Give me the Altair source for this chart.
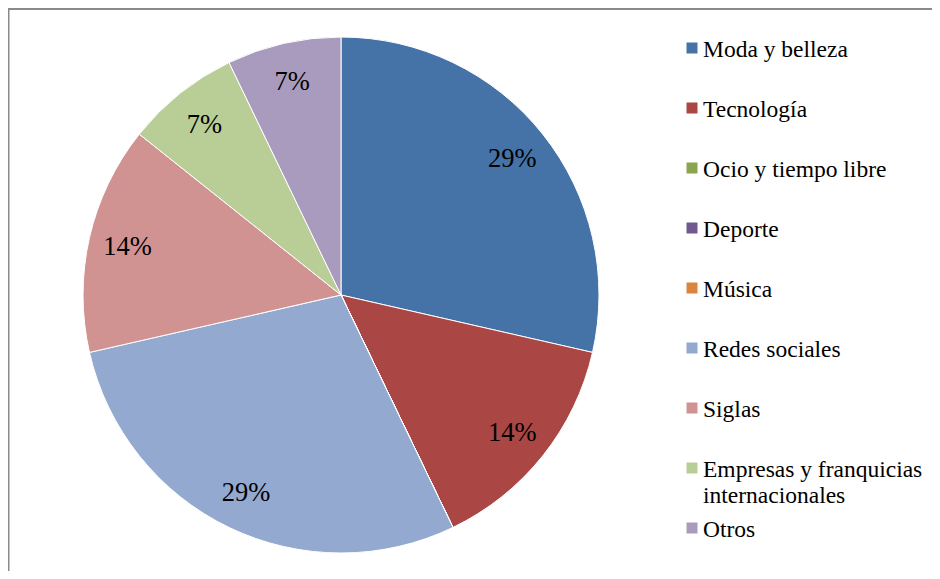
import altair as alt
import pandas as pd

categories = ["Moda y belleza", "Tecnología", "Ocio y tiempo libre", "Deporte", "Música",
              "Redes sociales", "Siglas", "Empresas y franquicias\ninternacionales", "Otros"]
values = [4, 2, 0, 0, 0, 4, 2, 1, 1]
colors = ["#4572A7", "#AA4643", "#89A54E", "#71588F", "#DB843D",
          "#93A9CF", "#D19392", "#B9CD96", "#A99BBD"]

total = sum(values)
df = pd.DataFrame({
    "cat": categories,
    "val": values,
    "idx": list(range(len(categories))),
    "pct": [f"{round(100 * v / total)}%" for v in values],
})

W, H = 924, 563
CX, CY, R = 333, 287, 258
FONT = "Liberation Serif, Times New Roman, serif"

color_scale = alt.Scale(domain=categories, range=colors)

base = alt.Chart(df)

arcs = base.mark_arc(stroke="white", strokeWidth=1).encode(
    theta=alt.Theta("val:Q", stack=True),
    color=alt.Color("cat:N", scale=color_scale, legend=None),
    order=alt.Order("idx:Q"),
    x=alt.value(CX), y=alt.value(CY),
    radius=alt.value(R),
)

labels = base.transform_filter("datum.val > 0").mark_text(
    font=FONT, fontSize=26.5, color="black", align="center", baseline="middle"
).encode(
    theta=alt.Theta("val:Q", stack=True),
    order=alt.Order("idx:Q"),
    text="pct:N",
    x=alt.value(CX), y=alt.value(CY + 1),
    radius=alt.value(219),
)

leg = base.transform_calculate(
    ly="40 + datum.idx * 60", ty="48.7 + datum.idx * 60"
)
leg_sq = leg.mark_square(size=121, opacity=1).encode(
    x=alt.value(684),
    y=alt.Y("ly:Q", scale=None, axis=None),
    color=alt.Color("cat:N", scale=color_scale, legend=None),
)
leg_txt = leg.mark_text(
    font=FONT, fontSize=23.5, color="black", align="left", baseline="alphabetic",
    lineBreak="\n", lineHeight=26
).encode(
    x=alt.value(695),
    y=alt.Y("ty:Q", scale=None, axis=None),
    text="cat:N",
)

border_left = alt.Chart(pd.DataFrame({"a": [0]})).mark_rule(color="#8a8a8a", strokeWidth=2).encode(
    x=alt.value(0.5), y=alt.value(0), y2=alt.value(H)
)
border_top = alt.Chart(pd.DataFrame({"a": [0]})).mark_rule(color="#8a8a8a", strokeWidth=2).encode(
    y=alt.value(1), x=alt.value(0), x2=alt.value(W)
)

chart = alt.layer(arcs, labels, leg_sq, leg_txt, border_left, border_top).properties(
    width=W, height=H,
    autosize=alt.AutoSizeParams(type="none"),
    padding=0,
).configure_view(stroke=None).configure(background="white")

chart.save("out.html", embed_options={"renderer": "svg", "actions": False})
